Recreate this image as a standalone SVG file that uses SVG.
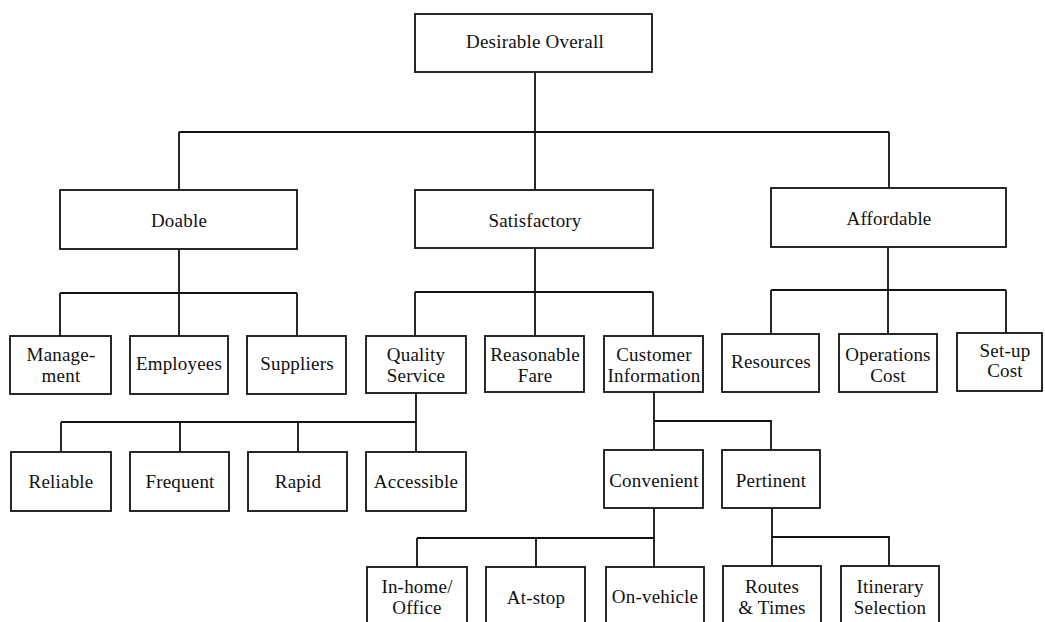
<svg xmlns="http://www.w3.org/2000/svg" width="1045" height="622" viewBox="0 0 1045 622">
<style>
.box{fill:#fff;stroke:#111;stroke-width:1.8}
.ln{fill:none;stroke:#111;stroke-width:1.8}
text{font-family:"Liberation Serif","Times New Roman",serif;font-size:19px;letter-spacing:0.2px;fill:#111;text-anchor:middle}
</style>
<rect width="1045" height="622" fill="#fff"/>
<g id="connectors" class="ln">
<path d="M535 72V132M179 132H889M179 132V190M535 132V190M889 132V188"/>
<path d="M179 249V336M60 293H297M60 293V336M297 293V336"/>
<path d="M535 248V336M415 292H653M415 292V336M653 292V336"/>
<path d="M888 247V334M771 290H1006M771 290V334M1006 290V333"/>
<path d="M416 393V452M61 422H416M61 422V452M180 422V452M298 422V452"/>
<path d="M654 392V450M654 421H771V450"/>
<path d="M654 508V567M417 538H654M417 538V567M536 538V567"/>
<path d="M772 508V566M772 537H889V566"/>
</g>
<g id="n-root"><rect class="box" x="415" y="14" width="237" height="58"/><text x="535" y="48">Desirable Overall</text></g>
<g id="n-doable"><rect class="box" x="60" y="190" width="237" height="59"/><text x="179" y="227">Doable</text></g>
<g id="n-satisfactory"><rect class="box" x="415" y="190" width="238" height="58"/><text x="535" y="227">Satisfactory</text></g>
<g id="n-affordable"><rect class="box" x="771" y="188" width="235" height="59"/><text x="889" y="225">Affordable</text></g>
<g id="n-management"><rect class="box" x="10" y="336" width="101" height="58"/><text x="61" y="361">Manage-</text><text x="61" y="382">ment</text></g>
<g id="n-employees"><rect class="box" x="130" y="336" width="98" height="58"/><text x="179" y="370">Employees</text></g>
<g id="n-suppliers"><rect class="box" x="247" y="336" width="99" height="58"/><text x="297" y="370">Suppliers</text></g>
<g id="n-quality"><rect class="box" x="366" y="336" width="100" height="57"/><text x="416" y="361">Quality</text><text x="416" y="382">Service</text></g>
<g id="n-fare"><rect class="box" x="485" y="336" width="99" height="56"/><text x="535" y="361">Reasonable</text><text x="535" y="382">Fare</text></g>
<g id="n-custinfo"><rect class="box" x="604" y="336" width="99" height="56"/><text x="654" y="361">Customer</text><text x="654" y="382">Information</text></g>
<g id="n-resources"><rect class="box" x="722" y="334" width="97" height="58"/><text x="771" y="368">Resources</text></g>
<g id="n-opcost"><rect class="box" x="839" y="334" width="98" height="58"/><text x="888" y="361">Operations</text><text x="888" y="382">Cost</text></g>
<g id="n-setup"><rect class="box" x="957" y="333" width="85" height="58"/><text x="1005" y="357">Set-up</text><text x="1005" y="377">Cost</text></g>
<g id="n-reliable"><rect class="box" x="11" y="452" width="100" height="59"/><text x="61" y="488">Reliable</text></g>
<g id="n-frequent"><rect class="box" x="130" y="452" width="99" height="59"/><text x="180" y="488">Frequent</text></g>
<g id="n-rapid"><rect class="box" x="248" y="452" width="99" height="59"/><text x="298" y="488">Rapid</text></g>
<g id="n-accessible"><rect class="box" x="366" y="452" width="100" height="59"/><text x="416" y="488">Accessible</text></g>
<g id="n-convenient"><rect class="box" x="604" y="450" width="99" height="58"/><text x="654" y="487">Convenient</text></g>
<g id="n-pertinent"><rect class="box" x="722" y="450" width="98" height="58"/><text x="771" y="487">Pertinent</text></g>
<g id="n-inhome"><rect class="box" x="367" y="567" width="100" height="62"/><text x="417" y="593">In-home/</text><text x="417" y="614">Office</text></g>
<g id="n-atstop"><rect class="box" x="486" y="567" width="99" height="62"/><text x="536" y="604">At-stop</text></g>
<g id="n-onvehicle"><rect class="box" x="606" y="567" width="98" height="62"/><text x="655" y="603">On-vehicle</text></g>
<g id="n-routes"><rect class="box" x="723" y="566" width="98" height="62"/><text x="772" y="593">Routes</text><text x="772" y="614">&amp; Times</text></g>
<g id="n-itinerary"><rect class="box" x="841" y="566" width="98" height="62"/><text x="890" y="593">Itinerary</text><text x="890" y="614">Selection</text></g>
</svg>
